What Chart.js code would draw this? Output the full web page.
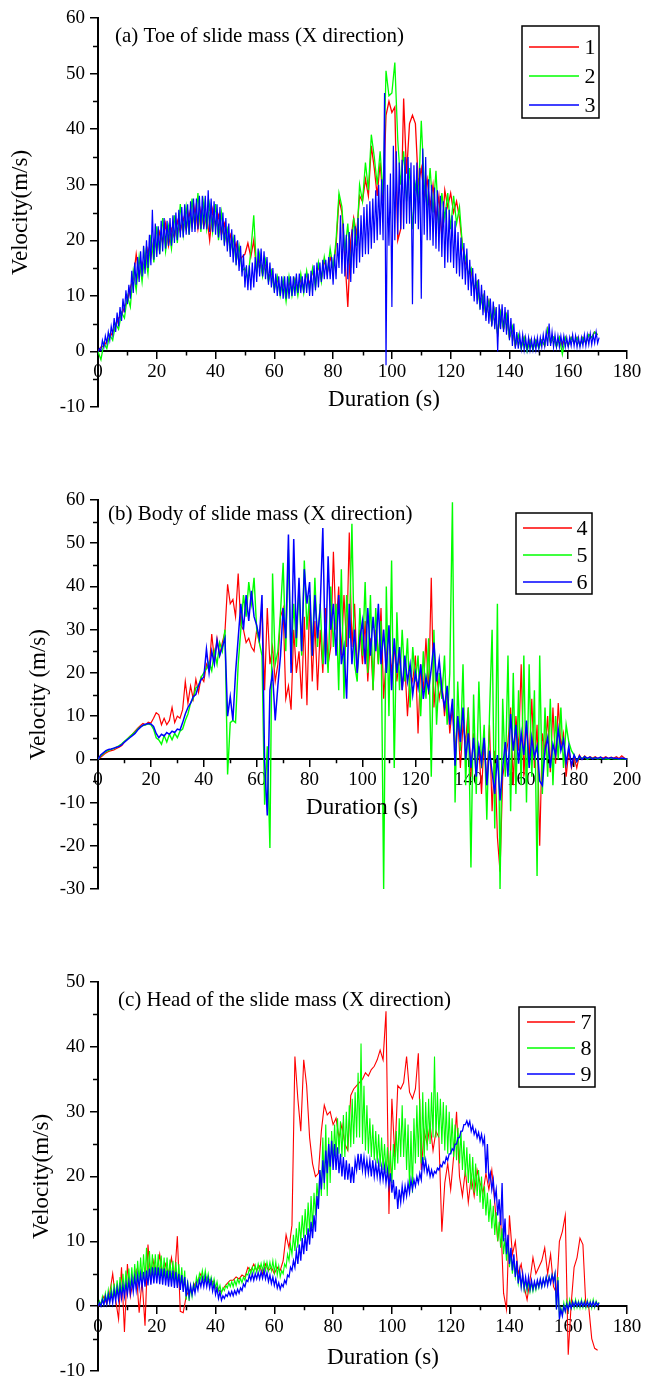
<!DOCTYPE html>
<html>
<head>
<meta charset="utf-8">
<script src="https://cdn.jsdelivr.net/npm/chart.js@4.4.1/dist/chart.umd.min.js"></script>
<style>
html, body { margin: 0; padding: 0; background: #fff; overflow: hidden; }
canvas { position: absolute; left: 0; }
</style>
</head>
<body>
<canvas id="chartA" width="646" height="440" style="top:0px"></canvas>
<canvas id="chartB" width="646" height="480" style="top:440px"></canvas>
<canvas id="chartC" width="646" height="458" style="top:920px"></canvas>
<script>
// one reading per second, taken off the figure.
// the dense bands are kept as a low / high envelope for each second
const stepSec = 1;

// (a) toe of slide mass
const toeVel1 = [
  0, 0.8, 1.0, 1.8, 2.5, 3.5, 4.5, 6.0, 6.5, 8.0,
  9.0, 11.5, 13.0, 17.5, 13.5, 16.0, 15.0, 18.5, 17.0, 20.0,
  18.5, 21.5, 19.5, 23.0, 19.0, 22.0, 20.5, 23.5, 21.5, 24.0,
  22.0, 25.0, 22.5, 26.0, 22.0, 25.5, 22.5, 24.5, 20.0, 25.5,
  22.5, 24.5, 21.0, 23.0, 19.5, 21.0, 18.0, 19.5, 16.0, 17.0,
  17.5, 19.5, 17.0, 20.0, 14.5, 16.5, 14.0, 16.0, 13.0, 14.5,
  11.5, 13.0, 11.0, 12.5, 10.5, 12.5, 11.0, 13.0, 11.0, 13.0,
  11.5, 14.0, 12.0, 14.5, 12.5, 15.5, 13.0, 16.5, 14.0, 17.0,
  15.0, 19.0, 27.5, 25.0, 17.0, 8.0, 20.0, 24.0, 21.0, 28.0,
  27.0, 31.0, 28.0, 37.0, 33.0, 28.0, 34.0, 27.0, 42.5, 45.0,
  43.0, 44.0, 20.0, 22.0, 45.5, 32.0, 41.0, 42.5, 41.0, 30.0,
  33.0, 28.0, 31.0, 26.0, 30.0, 24.0, 28.0, 20.5, 29.0, 26.0,
  28.5, 25.0, 27.0, 24.0, 19.0, 16.0, 14.0, 14.5, 11.0, 12.5,
  8.5, 10.0, 6.5, 9.0, 5.0, 7.5, 3.0, 7.0, 4.0, 6.5,
  2.5, 4.0, 1.0, 2.8, 0.8, 2.5, 0.5, 2.0, 0.5, 2.0,
  0.8, 2.0, 1.0, 4.0, 1.5, 2.5, 1.0, 2.5, 1.0, 2.5,
  1.0, 2.5, 1.5, 2.5, 1.2, 2.5, 1.5, 3.0, 2.5, 3.5,
  3.0
];
const toeVel2 = [
  0, -1.5, 1.5, 0.5, 3.0, 2.0, 5.0, 4.0, 7.0, 6.0,
  10.0, 8.0, 14.5, 11.0, 17.0, 12.5, 18.0, 14.0, 21.0, 16.0,
  22.5, 17.5, 24.0, 18.0, 22.5, 18.5, 24.5, 19.5, 26.5, 21.0,
  26.0, 21.0, 27.5, 22.0, 28.5, 21.5, 27.0, 22.0, 26.5, 21.5,
  26.5, 20.0, 25.0, 19.5, 22.0, 18.0, 20.5, 16.0, 19.0, 14.5,
  15.0, 13.0, 18.0, 24.5, 14.0, 17.5, 13.5, 16.5, 12.5, 14.5,
  11.0, 13.5, 10.0, 13.0, 9.0, 13.5, 10.0, 13.0, 10.0, 14.0,
  10.5, 14.5, 11.0, 15.0, 11.5, 16.0, 12.5, 17.0, 14.0, 18.5,
  15.0, 20.0, 28.5, 26.0, 18.0, 23.0, 15.0, 24.0, 19.0, 30.0,
  27.0, 34.0, 29.0, 39.0, 35.0, 30.0, 36.0, 28.0, 50.5, 46.0,
  46.5, 52.0, 38.0, 30.0, 36.0, 27.0, 33.0, 22.0, 30.0, 27.0,
  41.5, 30.0, 26.0, 33.0, 25.0, 32.5, 22.0, 28.5, 24.0, 28.5,
  22.0, 28.0, 23.0, 26.0, 19.0, 17.0, 14.0, 15.0, 11.5, 12.5,
  8.0, 10.0, 6.5, 9.0, 5.0, 7.5, 3.0, 7.0, 4.0, 6.5,
  2.5, 4.5, 1.0, 3.0, 0.5, 2.5, 0.0, 2.0, 0.3, 2.0,
  0.5, 2.0, 1.0, 4.0, 1.5, 2.5, 0.8, 2.5, -0.5, 2.5,
  1.0, 2.5, 1.5, 2.5, 1.0, 2.5, 1.5, 3.0, 2.5, 3.5,
  3.0
];
const toeLow3 = [
  0, 0.2, 0.8, 1.5, 2.0, 3.0, 3.5, 4.5, 5.5, 7.0,
  8.5, 9.5, 10.5, 12.0, 12.5, 13.5, 14.0, 15.0, 15.5, 16.5,
  17.0, 17.5, 18.0, 18.5, 19.0, 19.0, 19.5, 20.0, 20.5, 20.5,
  21.0, 21.0, 21.5, 21.5, 22.0, 22.0, 22.0, 22.0, 21.5, 21.5,
  21.0, 20.5, 20.0, 19.0, 18.0, 17.0, 16.0, 15.5, 14.5, 13.5,
  11.5, 11.0, 11.0, 11.5, 12.5, 13.5, 13.5, 13.0, 12.0, 11.5,
  10.5, 10.0, 10.0, 9.5, 9.5, 9.5, 10.0, 10.0, 10.5, 10.5,
  10.5, 10.5, 10.0, 10.0, 11.0, 11.5, 12.5, 13.0, 13.0, 13.0,
  12.0, 13.0, 15.0, 14.0, 13.5, 13.0, 12.5, 14.0, 15.0, 16.0,
  17.0, 17.5, 17.5, 18.5, 19.5, 20.0, 21.0, 20.0, -2.5, 19.0,
  8.0, 20.0, 21.0, 22.0, 22.0, 23.0, 23.0, 8.5, 23.0, 22.0,
  9.5, 21.0, 20.0, 20.0, 19.0, 18.5, 18.0, 17.0, 15.0, 16.0,
  16.0, 15.0, 14.0, 13.5, 13.0, 12.0, 11.0, 10.0, 9.0, 8.5,
  7.5, 6.5, 5.5, 5.0, 4.5, 4.0, 0.0, 4.0, 3.5, 3.0,
  2.0, 1.0, 0.5, 0.5, 0.5, 0.3, 0.3, 0.3, 0.3, 0.3,
  0.5, 0.8, 1.0, 1.0, 1.0, 0.8, 0.8, 0.8, 1.0, 0.8,
  0.8, 1.0, 1.0, 0.8, 0.8, 1.0, 1.0, 1.2, 1.2, 1.5,
  1.5
];
const toeHigh3 = [
  0.5, 2.0, 2.8, 3.5, 4.5, 6.0, 7.0, 8.0, 9.5, 11.0,
  12.0, 14.5, 16.0, 17.0, 18.0, 19.0, 20.0, 21.0, 25.5, 23.0,
  22.5, 23.5, 24.0, 23.5, 24.0, 24.5, 25.0, 25.5, 26.0, 26.5,
  26.5, 27.0, 27.5, 27.5, 28.0, 28.0, 28.0, 29.0, 27.5, 27.0,
  26.5, 26.0, 25.0, 24.0, 23.0, 22.0, 21.0, 20.0, 19.0, 17.5,
  15.5, 15.5, 16.0, 17.0, 18.5, 18.5, 18.0, 17.0, 16.0, 15.0,
  14.0, 13.5, 13.5, 13.5, 13.5, 13.5, 13.5, 14.0, 14.0, 13.5,
  14.0, 14.0, 14.5, 15.5, 16.0, 16.0, 16.5, 16.5, 17.0, 17.0,
  17.5, 19.5, 24.5, 23.0, 21.0, 21.5, 22.0, 22.5, 24.0, 24.5,
  26.0, 26.5, 27.0, 27.5, 29.0, 30.0, 31.0, 46.5, 30.0, 32.0,
  37.0, 36.0, 34.0, 34.5, 35.0, 35.0, 34.0, 33.5, 34.0, 33.0,
  36.5, 35.0, 31.0, 30.0, 29.5, 29.0, 28.0, 27.0, 26.0, 25.5,
  24.5, 23.5, 21.5, 20.5, 19.5, 18.5, 16.5, 15.0, 14.0, 13.0,
  12.0, 11.0, 10.0, 9.5, 9.0, 8.0, 8.5, 8.5, 8.0, 7.5,
  6.0, 5.0, 3.5, 3.0, 3.0, 2.5, 2.5, 2.2, 2.3, 2.5,
  2.5, 3.0, 3.5, 5.0, 3.5, 3.0, 2.8, 2.8, 2.8, 2.5,
  2.5, 3.0, 2.8, 2.5, 2.5, 3.0, 3.0, 3.2, 3.0, 3.5,
  2.5
];

// (b) body of slide mass
const bodyVel4 = [
  0, 0.5, 1.0, 1.5, 1.8, 2.0, 2.2, 2.5, 2.8, 3.2,
  4.0, 4.6, 5.3, 5.8, 6.5, 7.2, 7.8, 8.3, 8.0, 8.6,
  8.4, 9.5, 10.8, 10.3, 8.0, 9.5, 8.0, 9.0, 12.0, 8.5,
  10.0, 9.5, 11.5, 18.0, 13.0, 17.0, 14.0, 18.5, 15.5, 19.0,
  18.0, 22.0, 20.5, 29.0, 23.0, 28.0, 24.0, 27.0, 29.5, 40.5,
  36.0, 37.0, 33.0, 43.0, 31.0, 30.0, 27.0, 28.0, 26.0, 25.0,
  30.0, 27.0, 36.0, 16.0, 35.0, 22.0, 26.0, 18.0, 22.0, 33.0,
  35.0, 14.0, 17.0, 11.5, 30.0, 20.0, 25.0, 14.0, 33.0, 12.5,
  37.0, 18.0, 32.0, 16.0, 30.0, 20.0, 35.0, 22.0, 26.0, 48.0,
  30.0, 40.0, 24.0, 38.0, 26.0, 52.5, 26.0, 36.0, 20.0, 30.0,
  22.0, 32.0, 18.0, 28.0, 16.0, 30.0, 22.0, 35.0, 14.0, 24.0,
  30.0, 20.0, 26.0, 18.0, 24.0, 16.0, 22.0, 10.0, 20.0, 18.0,
  24.0, 6.0, 22.0, 16.0, 28.0, 15.0, 42.0, 12.0, 20.0, 14.0,
  18.0, 10.0, 16.0, 6.0, 12.0, 2.0, 10.0, -2.0, 8.0, 4.0,
  12.0, -4.0, 6.0, -2.0, 3.0, -8.0, 5.0, -6.0, 8.0, -12.0,
  2.0, -18.0, -26.0, -4.0, 0.0, 4.0, 12.0, -6.0, 10.0, 2.0,
  22.0, -4.0, 8.0, 0.0, 14.0, -2.0, 8.0, -20.0, 6.0, 2.0,
  10.0, -3.0, 12.0, -1.0, 13.0, 3.0, 6.0, -4.0, 2.0, -2.0,
  0.5, -2.0, 1.0, 0.0, 0.8, 0.2, 0.6, 0.3, 0.6, 0.2,
  0.5, 0.3, 0.6, 0.2, 0.5, 0.3, 0.6, 0.2, 0.8, 0.3,
  0.0
];
const bodyVel5 = [
  0, 0.8, 1.3, 1.8, 2.1, 2.3, 2.5, 2.8, 3.2, 3.6,
  4.2, 4.7, 5.2, 5.8, 6.3, 7.0, 7.5, 7.8, 8.0, 8.2,
  8.0, 7.0, 5.0, 4.5, 3.5, 5.5, 4.0, 5.8, 4.5, 6.0,
  5.0, 6.5, 7.0, 9.0, 10.5, 13.0, 14.0, 16.5, 17.0, 19.0,
  20.0, 21.0, 22.5, 20.5, 25.0, 22.0, 27.0, 25.0, 30.0, -3.5,
  8.5, 9.0, 8.5, 22.0, 30.0, 38.0, 33.0, 41.0, 36.0, 42.0,
  30.0, 27.0, 24.0, -10.5, 3.0, -20.5, 43.0, 22.0, 25.0, 34.0,
  45.5, 25.0, 48.5, 22.0, 36.0, 26.0, 40.0, 24.0, 46.0, 30.0,
  38.0, 24.0, 42.0, 26.0, 36.0, 22.0, 30.0, 20.0, 40.0, 26.0,
  36.0, 16.0, 44.0, 14.0, 38.0, 28.0, 54.5, 22.0, 18.0, 35.0,
  24.0, 41.0, 20.0, 38.0, 16.0, 35.0, 22.0, 32.0, -30.0, 40.0,
  10.0, 46.0, -2.0, 34.0, 16.0, 30.0, 18.0, 28.0, 12.0, 26.0,
  18.0, 24.0, 10.0, 25.0, 14.0, 28.0, -4.0, 30.0, 8.0, 20.0,
  14.0, 24.0, 8.0, 20.0, 59.5, -10.0, 18.0, 2.0, 22.0, -6.0,
  12.0, -25.0, 15.0, -8.0, 18.0, -2.0, 8.0, -14.0, 10.0, 30.0,
  -16.0, 36.0, -30.0, 14.0, -4.0, 24.0, -12.0, 20.0, -8.0, 16.0,
  -6.0, 24.0, -10.0, 22.0, -4.0, 16.0, -27.0, 24.0, -8.0, 12.0,
  -4.0, 14.0, -6.0, 10.0, 0.0, 12.0, -2.0, 8.0, 4.0, 2.0,
  1.0, -0.5, 0.5, 0.2, 0.6, 0.0, 0.4, 0.2, 0.3, 0.1,
  0.3, 0.1, 0.2, 0.0, 0.3, 0.1, 0.2, 0.0, 0.2, 0.1,
  0.0
];
const bodyVel6 = [
  0, 1.0, 1.5, 2.0, 2.3, 2.4, 2.6, 2.8, 3.0, 3.4,
  4.0, 4.5, 5.0, 5.5, 6.0, 6.8, 7.4, 7.9, 8.1, 8.3,
  8.2, 7.6, 6.0, 5.0, 5.8, 5.4, 6.2, 5.8, 6.5, 6.2,
  7.0, 6.8, 8.5, 10.5, 12.0, 13.0, 14.5, 15.0, 17.0, 18.5,
  19.0, 25.5, 20.0, 25.0, 22.0, 27.5, 24.0, 26.0, 28.0, 10.0,
  14.5, 9.0, 20.0, 28.0, 36.0, 30.0, 38.0, 32.0, 39.0, 33.0,
  31.0, 28.0, 38.0, -0.5, -13.0, 16.0, 20.0, 9.0, 17.0, 24.0,
  35.0, 28.0, 52.0, 20.0, 51.0, 28.0, 42.0, 25.0, 44.0, 36.0,
  41.0, 24.0, 38.0, 28.0, 35.0, 53.5, 22.0, 47.0, 30.0, 36.0,
  24.0, 38.0, 22.0, 26.0, 14.0, 36.0, 22.0, 30.0, 20.0, 28.0,
  32.0, 22.0, 35.0, 24.0, 33.0, 25.0, 36.0, 22.0, 30.0, 20.0,
  31.0, 16.0, 28.0, 20.0, 26.0, 16.0, 24.0, 18.0, 22.0, 15.0,
  20.0, 16.5, 22.0, 14.0, 19.0, 16.0, 21.0, 27.0, 18.0, 23.0,
  16.0, 12.0, 17.0, 8.0, 14.0, -1.5, 10.0, 4.0, 12.0, 0.0,
  6.0, -2.0, 5.0, -4.0, 3.0, -1.0, 5.0, -6.0, 2.0, -3.0,
  -8.0, 1.0, -9.5, -2.0, 4.0, -4.0, 10.5, 2.0, 8.0, -1.0,
  6.0, 1.0, 9.0, -2.0, 5.0, 0.5, 3.0, -5.0, -6.0, 2.0,
  5.0, -2.0, 3.5, 1.0, 7.0, 2.0, 4.5, -1.0, 3.0, -1.5,
  1.0, -0.5, 0.8, 0.0, 0.6, 0.2, 0.5, 0.1, 0.4, 0.2,
  0.5, 0.1, 0.4, 0.2, 0.4, 0.2, 0.3, 0.1, 0.3, 0.2,
  0.0
];

// (c) head of the slide mass
const headVel7 = [
  0, 0.5, 1.5, 0.3, 2.0, 5.0, 1.0, -2.0, 6.0, -4.0,
  6.5, 1.5, 4.0, 5.5, -1.0, 4.0, -3.0, 9.5, 4.0, 7.0,
  5.0, 8.0, 4.5, 6.5, 5.0, 7.5, 4.0, 10.8, -0.8, -1.0,
  1.5, 2.5, 2.0, 3.5, 4.0, 5.0, 4.0, 4.5, 4.0, 3.8,
  3.0, 2.5, 2.2, 3.0, 3.5, 4.0, 4.0, 4.5, 4.2, 4.8,
  4.5, 6.0, 5.5, 6.5, 5.5, 6.2, 5.0, 6.5, 5.5, 6.0,
  5.0, 6.0, 5.5, 7.0, 11.0, 9.0, 12.5, 38.5, 32.0, 27.0,
  38.0, 34.0, 26.0, 22.0, 20.0, 20.5, 27.0, 31.0, 29.5, 30.0,
  28.0, 29.0, 26.0, 28.0, 25.0, 24.0, 32.5, 33.5, 34.0, 34.5,
  35.0, 36.0, 35.5, 36.5, 37.0, 38.0, 39.5, 38.0, 45.5, 14.2,
  32.0, 23.0, 34.0, 33.5, 34.5, 38.5, 33.0, 32.0, 33.5, 39.0,
  21.0, 27.0, 25.0, 28.0, 24.0, 27.0, 26.0, 11.5, 19.0, 22.0,
  18.0, 23.0, 30.0, 20.0, 17.0, 21.0, 16.0, 20.0, 17.0, 21.0,
  19.0, 17.5, 20.5, 18.0, 21.0, 16.0, 10.0, 14.0, 2.0, -0.5,
  14.0, 8.0, 10.0, 5.0, 6.5, 3.0, 1.0, 4.0, 7.5, 5.0,
  6.0, 7.0, 9.0, 5.0, 8.0, 3.0, 2.0, 10.0, 11.5, 14.0,
  -7.5, 0.3, 6.0, 7.5, 10.5, 9.5, 0.0, -0.2, -5.0, -6.5,
  -6.8
];
const headLow8 = [
  0, 0.2, 0.4, 0.6, 0.8, 1.0, 1.2, 1.5, 1.8, 2.0,
  2.2, 2.5, 3.0, 3.5, 3.8, 4.0, 4.2, 4.5, 4.5, 4.5,
  4.5, 4.5, 4.3, 4.2, 4.0, 3.8, 3.5, 3.2, 3.0, 2.5,
  1.0, 0.8, 1.5, 2.5, 3.5, 4.0, 4.0, 3.8, 3.5, 3.2,
  2.8, 2.4, 2.0, 2.4, 2.8, 3.0, 3.0, 3.2, 3.5, 3.6,
  4.0, 4.8, 5.0, 5.2, 5.3, 5.5, 5.5, 5.5, 5.5, 5.5,
  5.2, 4.8, 4.5, 5.0, 6.0, 7.0, 8.0, 8.5, 9.0, 10.0,
  10.5, 11.0, 11.5, 12.0, 14.0, 16.0, 17.0, 18.0, 17.0, 19.0,
  22.0, 23.0, 23.5, 23.0, 23.0, 24.0, 24.5, 25.0, 26.0, 26.0,
  25.0, 24.0, 23.5, 23.0, 22.5, 22.0, 21.5, 21.0, 20.5, 20.0,
  19.0, 21.0, 22.0, 23.0, 23.0, 21.0, 18.0, 17.5, 22.0, 23.0,
  22.0, 22.5, 24.0, 25.0, 26.0, 26.0, 26.0, 25.0, 24.0, 23.5,
  23.5, 23.0, 22.5, 22.0, 21.0, 20.0, 19.0, 18.0, 17.5, 17.0,
  16.0, 15.0, 14.0, 13.0, 12.0, 11.0, 10.0, 9.0, 8.0, 7.0,
  6.0, 5.0, 4.5, 3.5, 3.0, 2.5, 2.3, 2.2, 2.3, 2.5,
  2.8, 3.0, 3.2, 3.5, 3.8, 4.0, -0.5, -1.8, -1.2, -0.8,
  -0.5, -0.3, -0.3, -0.2, -0.3, -0.2, -0.3, -0.2, -0.3, -0.2,
  0.2
];
const headHigh8 = [
  0.8, 1.5, 2.0, 2.5, 3.0, 3.5, 4.0, 4.5, 5.0, 5.5,
  5.8, 6.0, 6.5, 7.0, 7.5, 8.0, 9.0, 8.5, 8.0, 8.0,
  8.0, 7.8, 7.5, 7.5, 7.2, 7.0, 6.8, 6.5, 6.0, 5.5,
  4.0, 3.0, 3.5, 4.5, 5.0, 5.5, 5.5, 5.0, 4.5, 4.2,
  3.8, 3.2, 2.8, 3.2, 3.6, 3.8, 4.0, 4.2, 4.3, 4.5,
  5.0, 5.8, 6.0, 6.3, 6.5, 6.6, 6.8, 6.8, 6.8, 7.0,
  6.8, 6.2, 5.5, 6.5, 8.0, 9.5, 11.0, 12.0, 13.0, 14.0,
  15.0, 16.0, 17.0, 17.5, 19.0, 21.0, 26.0, 28.0, 26.0, 27.0,
  28.0, 29.0, 28.5, 29.5, 30.0, 31.0, 32.0, 33.0, 36.0, 40.5,
  34.0, 31.0, 29.0, 28.0, 27.0, 26.5, 26.0, 25.0, 24.5, 24.0,
  25.0, 27.0, 29.0, 31.0, 29.0, 28.0, 27.0, 29.0, 31.0, 32.0,
  33.0, 31.5, 32.0, 33.0, 38.5, 33.0, 32.0, 31.5, 31.0, 30.0,
  29.0, 28.0, 27.5, 27.0, 25.5, 24.5, 23.5, 23.0, 22.0, 21.0,
  20.0, 18.5, 17.5, 16.5, 15.5, 14.5, 13.0, 12.0, 10.5, 9.5,
  8.0, 7.0, 6.0, 5.0, 4.5, 4.0, 3.8, 3.6, 3.6, 3.8,
  4.0, 4.2, 4.4, 4.6, 4.8, 5.0, 4.5, -0.3, 0.5, 0.8,
  1.0, 0.8, 1.0, 0.8, 1.0, 0.8, 0.9, 0.8, 1.0, 0.8,
  0.6
];
const headLow9 = [
  0, 0, 0.2, 0.3, 0.5, 0.5, 0.8, 1.0, 1.2, 1.5,
  1.8, 2.0, 2.2, 2.5, 2.8, 3.0, 3.0, 3.2, 3.3, 3.5,
  3.5, 3.4, 3.3, 3.2, 3.0, 3.0, 2.8, 2.8, 2.5, 2.2,
  1.5, 1.5, 1.8, 2.0, 2.5, 3.0, 3.0, 3.0, 2.8, 2.3,
  1.8, 1.2, 0.9, 1.2, 1.5, 1.6, 1.6, 1.8, 2.0, 2.4,
  3.0, 3.8, 4.0, 4.0, 4.2, 4.2, 4.3, 4.2, 3.8, 3.5,
  3.2, 2.8, 2.6, 3.0, 3.5, 4.5, 5.5, 6.0, 6.5, 7.0,
  8.0, 8.5, 9.5, 10.5, 11.5, 15.0, 18.0, 19.0, 20.5, 21.5,
  21.0, 21.0, 20.5, 20.0, 19.5, 19.5, 19.0, 19.0, 21.0, 21.0,
  21.0, 20.5, 20.5, 20.0, 20.0, 20.0, 19.5, 19.5, 19.0, 18.5,
  17.5, 16.5, 15.0, 16.0, 16.5, 17.0, 17.5, 18.0, 18.5, 19.0,
  19.5, 21.0, 20.5, 20.0, 20.0, 20.5, 21.0, 21.5, 22.0, 22.5,
  23.5, 24.0, 25.0, 26.0, 27.0, 28.0, 27.8, 27.0, 26.5, 26.0,
  25.5, 25.0, 20.5, 19.5, 18.0, 16.5, 14.0, 12.5, 10.0, 8.0,
  6.5, 5.5, 4.5, 3.5, 3.0, 2.8, 2.8, 2.6, 2.6, 2.8,
  3.0, 3.0, 3.2, 3.2, 3.5, 3.8, -0.5, -2.0, -1.5, -0.8,
  -0.5, -0.3, 0.0, 0.0, 0.0, 0.0, 0.0, 0.0, 0.0, 0.0,
  0.1
];
const headHigh9 = [
  0.5, 1.0, 1.5, 1.8, 2.0, 2.5, 2.8, 3.0, 3.2, 3.5,
  3.8, 4.2, 4.5, 4.8, 5.0, 5.3, 5.5, 5.8, 6.0, 6.0,
  6.0, 5.8, 5.8, 5.5, 5.5, 5.5, 5.3, 5.0, 4.8, 4.5,
  3.5, 3.2, 3.2, 3.5, 4.0, 4.3, 4.5, 4.3, 4.0, 3.5,
  2.8, 2.2, 1.6, 1.8, 2.2, 2.3, 2.4, 2.6, 2.8, 3.4,
  4.0, 4.8, 5.0, 5.0, 5.2, 5.3, 5.5, 5.2, 4.8, 4.5,
  4.2, 3.6, 3.4, 4.0, 4.8, 6.0, 7.0, 8.5, 9.5, 10.5,
  11.0, 12.0, 13.0, 14.0, 17.0, 21.0, 22.5, 24.0, 25.0, 25.5,
  25.0, 24.5, 23.5, 23.0, 22.5, 22.0, 21.5, 22.5, 23.5, 23.5,
  23.0, 22.5, 22.5, 22.5, 22.0, 22.0, 21.5, 21.5, 21.0, 20.5,
  19.5, 18.5, 18.0, 18.5, 18.5, 19.0, 19.5, 19.5, 20.0, 20.5,
  23.0, 22.5, 21.5, 21.0, 20.8, 21.3, 21.8, 22.3, 23.0, 23.5,
  24.3, 25.0, 26.0, 27.0, 28.0, 28.6, 28.5, 27.8, 27.2, 26.8,
  26.5, 26.0, 25.0, 20.5, 19.5, 18.0, 16.5, 19.0, 13.5, 11.0,
  9.0, 8.0, 7.0, 5.5, 5.0, 4.5, 4.5, 4.0, 3.8, 4.0,
  4.2, 4.2, 4.5, 4.5, 4.8, 5.0, 4.0, -0.5, 0.0, 0.3,
  0.5, 0.6, 0.7, 0.6, 0.7, 0.6, 0.7, 0.6, 0.7, 0.6,
  0.5
];

const legendA = ['1', '2', '3'];
const legendB = ['4', '5', '6'];
const legendC = ['7', '8', '9'];
const lineColors = ['#ff0000', '#00ff00', '#0000ff'];

const SERIF = '"Liberation Serif", "Times New Roman", serif';
Chart.defaults.color = '#000';
Chart.defaults.font.family = SERIF;

// plain series, or a low/high envelope drawn low at the second, high half a step later
function toPoints(s) {
  if (Array.isArray(s)) return s.map((v, i) => ({ x: i * stepSec, y: v }));
  const pts = [];
  s.low.forEach((v, i) => {
    pts.push({ x: i * stepSec, y: v });
    pts.push({ x: (i + 0.5) * stepSec, y: s.high[i] });
  });
  return pts;
}

// small ticks between the labelled ones
const minorTicks = {
  id: 'minorTicks',
  afterDraw(chart) {
    const { ctx, scales: { x, y } } = chart;
    const y0 = y.getPixelForValue(0);
    ctx.save();
    ctx.strokeStyle = '#000';
    ctx.lineWidth = 1.5;
    ctx.beginPath();
    for (let v = x.min + 10; v < x.max; v += 20) {
      const px = Math.round(x.getPixelForValue(v)) + 0.5;
      ctx.moveTo(px, y0);
      ctx.lineTo(px, y0 + 4);
    }
    for (let v = y.min + 5; v < y.max; v += 10) {
      const py = Math.round(y.getPixelForValue(v)) + 0.5;
      ctx.moveTo(x.left - 5, py);
      ctx.lineTo(x.left, py);
    }
    ctx.stroke();
    ctx.restore();
  }
};

// framed legend, panel heading and x-axis title
const panelText = {
  id: 'panelText',
  afterDraw(chart, args, o) {
    const ctx = chart.ctx;
    ctx.save();
    ctx.fillStyle = '#000';
    ctx.textBaseline = 'middle';
    ctx.font = '21px ' + SERIF;
    ctx.textAlign = 'left';
    ctx.fillText(o.heading, o.headX, o.headY);
    ctx.font = '23px ' + SERIF;
    ctx.textAlign = 'center';
    ctx.fillText(o.xTitle, o.xTitleX, o.xTitleY);

    const b = o.box;
    ctx.fillStyle = '#fff';
    ctx.fillRect(b.x, b.y, b.w, b.h);
    ctx.strokeStyle = '#000';
    ctx.lineWidth = 1.5;
    ctx.strokeRect(b.x, b.y, b.w, b.h);
    ctx.font = '22px ' + SERIF;
    ctx.fillStyle = '#000';
    chart.data.datasets.forEach((ds, i) => {
      const ly = b.y + b.first + i * b.row;
      ctx.strokeStyle = ds.borderColor;
      ctx.lineWidth = 1.5;
      ctx.beginPath();
      ctx.moveTo(b.lineX0, ly);
      ctx.lineTo(b.lineX1, ly);
      ctx.stroke();
      ctx.fillText(ds.label, b.labelX, ly + 1);
    });
    ctx.restore();
  }
};

function makePanel(canvasId, p) {
  const datasets = p.series.map((s, i) => ({
    label: p.labels[i],
    data: toPoints(s),
    borderColor: lineColors[i],
    borderWidth: p.widths[i],
    pointRadius: 0,
    tension: 0,
    order: 3 - i
  }));
  return new Chart(document.getElementById(canvasId), {
    type: 'line',
    data: { datasets },
    plugins: [minorTicks, panelText],
    options: {
      responsive: false,
      animation: false,
      devicePixelRatio: 1,
      layout: { padding: { left: 0, right: 19, top: p.padTop, bottom: p.padBottom } },
      plugins: {
        legend: { display: false },
        tooltip: { enabled: false },
        panelText: p.text
      },
      scales: {
        x: {
          type: 'linear',
          position: { y: 0 },
          min: 0,
          max: p.xMax,
          ticks: { stepSize: 20, padding: 2, maxRotation: 0, autoSkip: false, font: { size: 19 } },
          grid: { drawOnChartArea: false, tickLength: 7, color: '#000', lineWidth: 1.5 },
          border: { color: '#000', width: 2 },
          afterFit(s) { s.paddingLeft = 0; s.paddingRight = 0; }
        },
        y: {
          type: 'linear',
          min: p.yMin,
          max: p.yMax,
          ticks: { stepSize: 10, padding: 5, font: { size: 19 } },
          grid: { drawOnChartArea: false, tickLength: 8, color: '#000', lineWidth: 1.5 },
          border: { color: '#000', width: 2 },
          title: { display: true, text: p.yTitle, font: { size: 23 }, padding: { top: p.yTitlePad, bottom: 0 } },
          afterFit(s) { s.width = 98; s.paddingTop = 0; s.paddingBottom = 0; }
        }
      }
    }
  });
}

makePanel('chartA', {
  series: [toeVel1, toeVel2, { low: toeLow3, high: toeHigh3 }], labels: legendA, widths: [1.3, 1.3, 1.2],
  xMax: 180, yMin: -10, yMax: 60, padTop: 18, padBottom: 33,
  yTitle: 'Velocity(m/s)', yTitlePad: 7,
  text: {
    heading: '(a) Toe of slide mass (X direction)', headX: 115, headY: 36,
    xTitle: 'Duration (s)', xTitleX: 384, xTitleY: 400,
    box: { x: 522, y: 26, w: 77, h: 92, first: 21, row: 29, lineX0: 529, lineX1: 579, labelX: 590 }
  }
});

makePanel('chartB', {
  series: [bodyVel4, bodyVel5, bodyVel6], labels: legendB, widths: [1.2, 1.4, 1.5],
  xMax: 200, yMin: -30, yMax: 60, padTop: 60, padBottom: 31,
  yTitle: 'Velocity (m/s)', yTitlePad: 25,
  text: {
    heading: '(b) Body of slide mass (X direction)', headX: 108, headY: 74,
    xTitle: 'Duration (s)', xTitleX: 362, xTitleY: 368,
    box: { x: 516, y: 73, w: 76, h: 81, first: 15, row: 27, lineX0: 523, lineX1: 572, labelX: 582 }
  }
});

makePanel('chartC', {
  series: [headVel7, { low: headLow8, high: headHigh8 }, { low: headLow9, high: headHigh9 }], labels: legendC, widths: [1.1, 1.1, 1.3],
  xMax: 180, yMin: -10, yMax: 50, padTop: 62, padBottom: 7,
  yTitle: 'Velocity(m/s)', yTitlePad: 28,
  text: {
    heading: '(c) Head of the slide mass (X direction)', headX: 118, headY: 80,
    xTitle: 'Duration (s)', xTitleX: 383, xTitleY: 438,
    box: { x: 519, y: 87, w: 76, h: 80, first: 15, row: 26, lineX0: 527, lineX1: 575, labelX: 586 }
  }
});
</script>
</body>
</html>
